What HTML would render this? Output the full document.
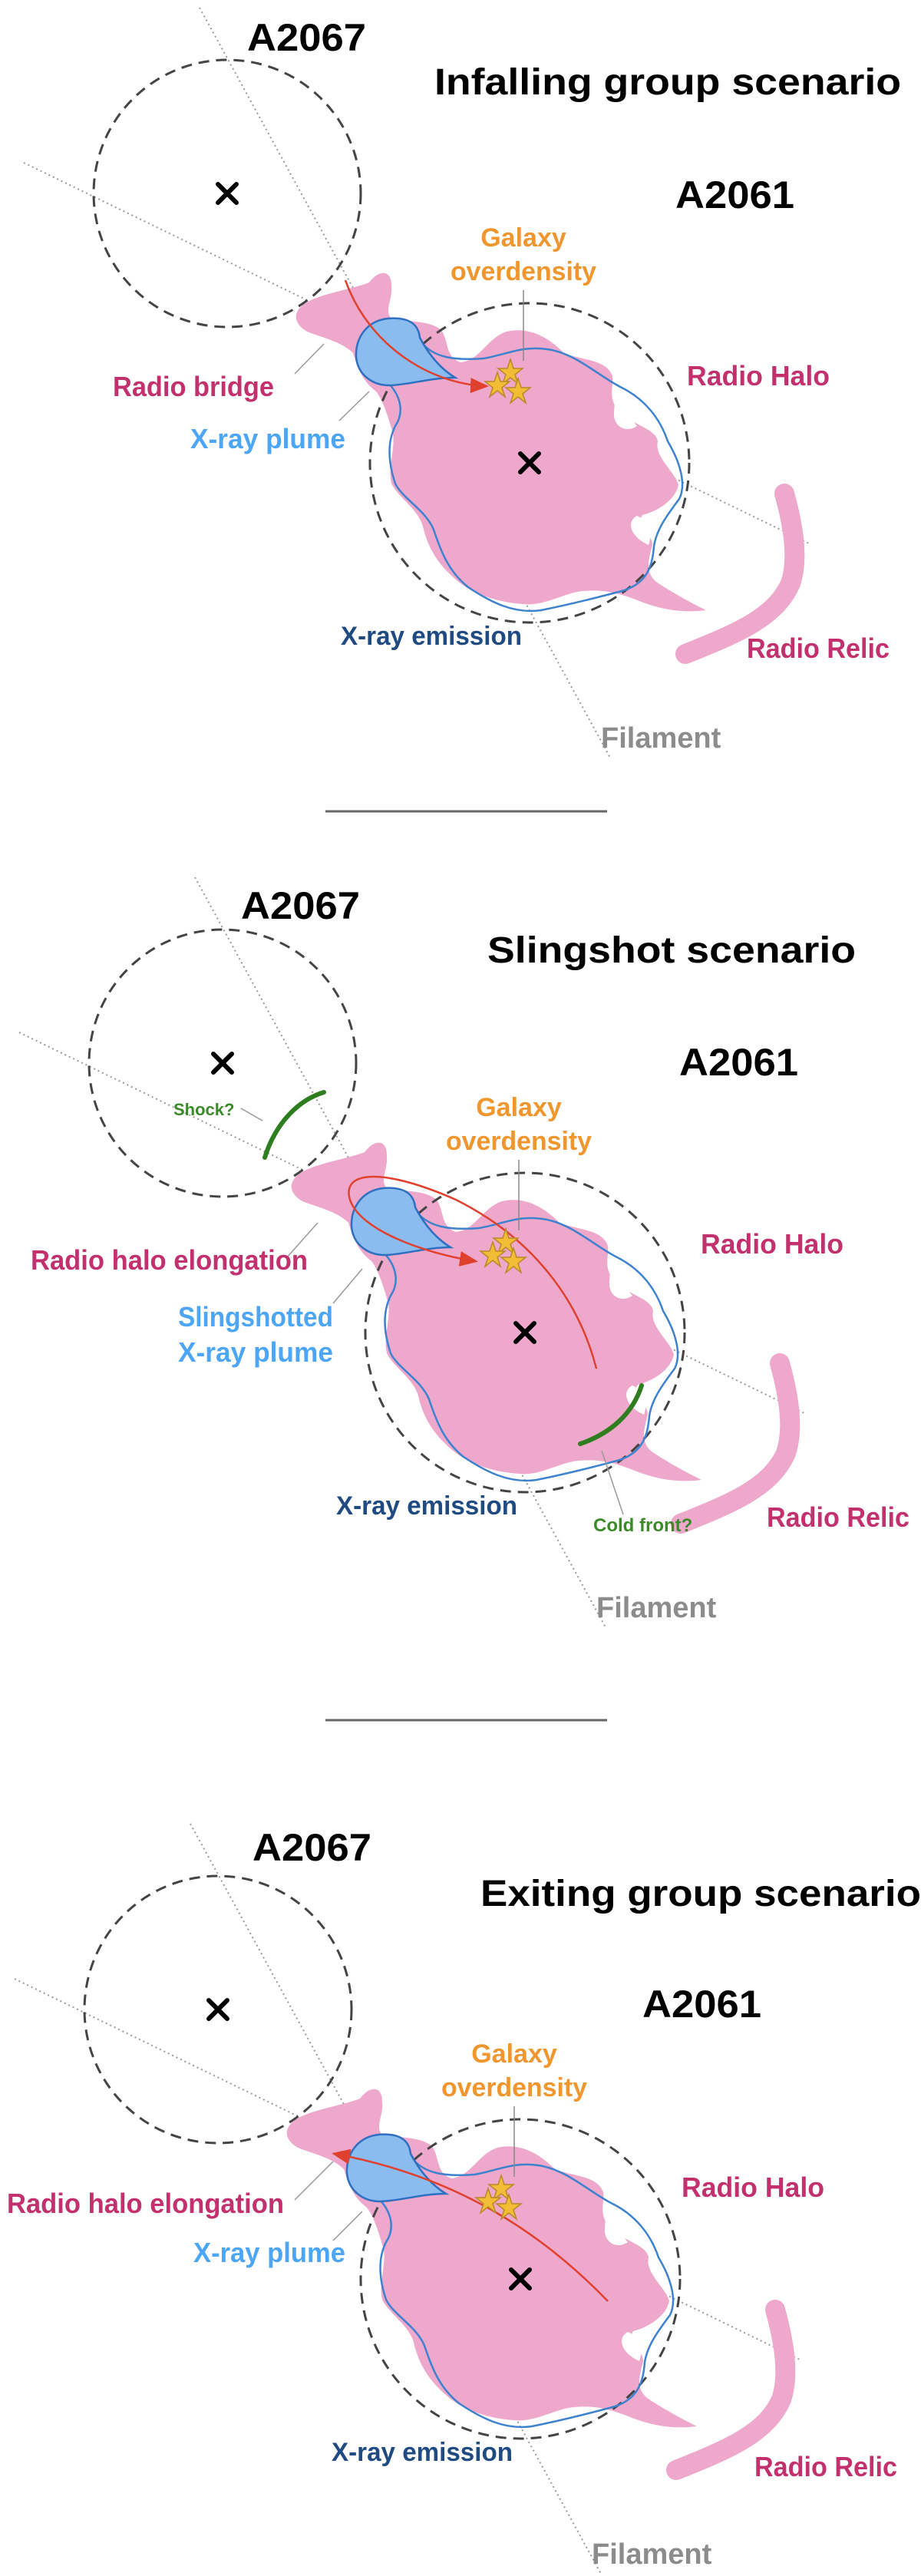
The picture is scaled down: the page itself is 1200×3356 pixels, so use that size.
<!DOCTYPE html>
<html><head><meta charset="utf-8"><style>
html,body{margin:0;padding:0;background:#fff;}
svg{display:block;}
.t{font-family:"Liberation Sans",sans-serif;font-weight:bold;}
.l{font-family:"Liberation Sans",sans-serif;font-weight:bold;}
</style></head><body>
<svg width="1200" height="3356" viewBox="0 0 1200 3356" xmlns="http://www.w3.org/2000/svg">
<defs>
<marker id="ah2" markerWidth="24" markerHeight="20" refX="20" refY="10" orient="auto" markerUnits="userSpaceOnUse" viewBox="0 0 24 20">
<path d="M0,0 L24,10 L0,20 Z" fill="#e0402e"/></marker>
<g id="base">
  <line x1="260" y1="10" x2="795" y2="987" stroke="#999" stroke-width="2" stroke-dasharray="2,4"/>
  <line x1="31" y1="212" x2="1054" y2="708" stroke="#999" stroke-width="2" stroke-dasharray="2,4"/>
  <path fill="#eea8cb" d="M387,407 C395,385 450,380 481,368 C495,350 510,352 510,372 C512,390 500,405 510,415 C540,420 560,418 575,430 C585,445 580,465 600,472 C625,470 635,440 660,432 C690,425 715,440 735,460 C760,470 790,468 798,490 C800,505 790,520 810,540 C830,555 855,560 857,575 C852,595 880,615 884,632 C880,650 860,665 837,671 C828,684 850,695 850,710 C845,730 840,745 855,758 C880,775 910,790 920,795 C880,800 850,790 828,781 C800,770 780,768 760,770 C735,772 710,790 682,787 C650,785 620,775 600,760 C575,740 560,720 552,690 C548,665 520,650 510,630 C505,610 515,585 512,565 C505,540 498,520 490,510 C470,495 465,475 460,460 C445,445 420,440 400,432 C388,425 383,415 387,407 Z"/>
  <path fill="#fff" d="M806,515 C815,520 820,545 830,555 C815,565 800,555 800,540 C800,528 802,518 806,515 Z"/>
  <path fill="#fff" d="M830,672 C815,680 822,700 845,710 C850,695 848,680 830,672 Z"/>
  <path d="M1022,643 C1035,690 1040,730 1030,760 C1010,805 960,825 893,852" fill="none" stroke="#eea8cb" stroke-width="26" stroke-linecap="round"/>
  <circle cx="296" cy="252" r="174" fill="none" stroke="#444" stroke-width="3" stroke-dasharray="14,9"/>
  <circle cx="690" cy="603" r="208" fill="none" stroke="#444" stroke-width="3" stroke-dasharray="14,9"/>
  <path fill="none" stroke="#3d82cf" stroke-width="2.5" d="M550,447 C565,465 590,470 630,467 C660,462 680,450 713,455 C750,460 780,490 810,505 C840,520 860,545 870,575 C885,600 895,630 885,650 C870,670 855,690 852,712 C850,735 845,760 810,770 C780,778 740,788 705,795 C670,800 640,785 610,765 C585,745 575,720 565,690 C555,665 525,650 515,630 C505,600 505,575 515,555 C525,540 525,520 507,500"/>
  <path fill="#8bbcef" stroke="#2f6fc0" stroke-width="2.5" d="M593,492 C570,478 555,455 547,440 C545,420 530,413 505,415 C478,418 463,440 464,465 C466,488 485,502 507,502 C530,502 560,492 593,492 Z"/>
  <g stroke="#000" stroke-width="6" stroke-linecap="round">
    <line x1="284" y1="240" x2="308" y2="264"/><line x1="308" y1="240" x2="284" y2="264"/>
    <line x1="678" y1="591" x2="702" y2="615"/><line x1="702" y1="591" x2="678" y2="615"/>
  </g>
  <line x1="682" y1="378" x2="682" y2="470" stroke="#888" stroke-width="1.5"/>
  <text class="l" x="682" y="321" font-size="34" fill="#f0962e" text-anchor="middle">Galaxy</text>
  <text class="l" x="682" y="365" font-size="34" fill="#f0962e" text-anchor="middle" textLength="190" lengthAdjust="spacingAndGlyphs">overdensity</text>
  <text class="t" x="783" y="974" font-size="38" fill="#8c8c8c">Filament</text>
  <text class="l" x="444" y="840" font-size="34" fill="#1f4a82" textLength="236" lengthAdjust="spacingAndGlyphs">X-ray emission</text>
</g>
<g id="stars" fill="#f2bd35" stroke="#b8892a" stroke-width="1.5">
  <path d="M0,-17 L4,-5 L16,-5 L6,3 L10,15 L0,7 L-10,15 L-6,3 L-16,-5 L-4,-5 Z" transform="translate(665,485)"/>
  <path d="M0,-17 L4,-5 L16,-5 L6,3 L10,15 L0,7 L-10,15 L-6,3 L-16,-5 L-4,-5 Z" transform="translate(648,502)"/>
  <path d="M0,-17 L4,-5 L16,-5 L6,3 L10,15 L0,7 L-10,15 L-6,3 L-16,-5 L-4,-5 Z" transform="translate(675,510)"/>
</g>
</defs>

<g>
  <use href="#base"/>
  <path d="M450,365 C480,450 560,500 633,503" fill="none" stroke="#e0402e" stroke-width="2.5" marker-end="url(#ah2)"/>
  <use href="#stars"/>
  <line x1="384" y1="487" x2="422" y2="448" stroke="#999" stroke-width="1.5"/>
  <line x1="442" y1="548" x2="481" y2="510" stroke="#999" stroke-width="1.5"/>
  <text class="t" x="322" y="66" font-size="50" fill="#000" textLength="155" lengthAdjust="spacingAndGlyphs">A2067</text>
  <text class="t" x="566" y="123" font-size="48" fill="#000" textLength="608" lengthAdjust="spacingAndGlyphs">Infalling group scenario</text>
  <text class="t" x="880" y="271" font-size="50" fill="#000" textLength="155" lengthAdjust="spacingAndGlyphs">A2061</text>
  <text class="l" x="147" y="516" font-size="36" fill="#c2306e" textLength="210" lengthAdjust="spacingAndGlyphs">Radio bridge</text>
  <text class="l" x="248" y="584" font-size="36" fill="#4da6f5" textLength="202" lengthAdjust="spacingAndGlyphs">X-ray plume</text>
  <text class="l" x="895" y="502" font-size="36" fill="#c2306e" textLength="186" lengthAdjust="spacingAndGlyphs">Radio Halo</text>
  <text class="l" x="973" y="857" font-size="36" fill="#c2306e" textLength="186" lengthAdjust="spacingAndGlyphs">Radio Relic</text>
</g>

<line x1="424" y1="1057" x2="791" y2="1057" stroke="#666" stroke-width="3"/>

<g transform="translate(-6,1133)">
  <use href="#base"/>
  <path d="M783,650 C760,560 700,480 600,430 C510,390 450,390 462,430 C475,470 560,500 625,510" fill="none" stroke="#e0402e" stroke-width="2.5" marker-end="url(#ah2)"/>
  <use href="#stars"/>
  <line x1="380" y1="505" x2="420" y2="460" stroke="#999" stroke-width="1.5"/>
  <line x1="440" y1="565" x2="478" y2="520" stroke="#999" stroke-width="1.5"/>
  <path d="M351,375 C365,330 395,300 428,290" fill="none" stroke="#2e7d1e" stroke-width="6" stroke-linecap="round"/>
  <line x1="320" y1="311" x2="348" y2="327" stroke="#999" stroke-width="1.5"/>
  <text class="l" x="232" y="320" font-size="22" fill="#3a8a2a" font-weight="normal">Shock?</text>
  <path d="M762,748 C800,735 830,710 842,672" fill="none" stroke="#2e7d1e" stroke-width="6" stroke-linecap="round"/>
  <line x1="790" y1="757" x2="818" y2="840" stroke="#999" stroke-width="1.5"/>
  <text class="l" x="779" y="862" font-size="24" fill="#3a8a2a" font-weight="normal">Cold front?</text>
  <text class="t" x="320" y="64" font-size="50" fill="#000" textLength="155" lengthAdjust="spacingAndGlyphs">A2067</text>
  <text class="t" x="641" y="121" font-size="48" fill="#000" textLength="480" lengthAdjust="spacingAndGlyphs">Slingshot scenario</text>
  <text class="t" x="891" y="268" font-size="50" fill="#000" textLength="155" lengthAdjust="spacingAndGlyphs">A2061</text>
  <text class="l" x="46" y="521" font-size="36" fill="#c2306e" textLength="361" lengthAdjust="spacingAndGlyphs">Radio halo elongation</text>
  <text class="l" x="440" y="595" font-size="36" fill="#4da6f5" text-anchor="end" textLength="202" lengthAdjust="spacingAndGlyphs">Slingshotted</text>
  <text class="l" x="440" y="641" font-size="36" fill="#4da6f5" text-anchor="end" textLength="202" lengthAdjust="spacingAndGlyphs">X-ray plume</text>
  <text class="l" x="919" y="500" font-size="36" fill="#c2306e" textLength="186" lengthAdjust="spacingAndGlyphs">Radio Halo</text>
  <text class="l" x="1005" y="856" font-size="36" fill="#c2306e" textLength="186" lengthAdjust="spacingAndGlyphs">Radio Relic</text>
</g>

<line x1="424" y1="2241" x2="791" y2="2241" stroke="#666" stroke-width="3"/>

<g transform="translate(-12,2366)">
  <use href="#base"/>
  <path d="M804,632 C720,545 610,470 448,440" fill="none" stroke="#e0402e" stroke-width="2.5" marker-end="url(#ah2)"/>
  <use href="#stars"/>
  <line x1="396" y1="500" x2="446" y2="450" stroke="#999" stroke-width="1.5"/>
  <line x1="446" y1="553" x2="484" y2="515" stroke="#999" stroke-width="1.5"/>
  <text class="t" x="341" y="58" font-size="50" fill="#000" textLength="155" lengthAdjust="spacingAndGlyphs">A2067</text>
  <text class="t" x="638" y="117" font-size="48" fill="#000" textLength="574" lengthAdjust="spacingAndGlyphs">Exiting group scenario</text>
  <text class="t" x="849" y="262" font-size="50" fill="#000" textLength="155" lengthAdjust="spacingAndGlyphs">A2061</text>
  <text class="l" x="21" y="517" font-size="36" fill="#c2306e" textLength="361" lengthAdjust="spacingAndGlyphs">Radio halo elongation</text>
  <text class="l" x="264" y="581" font-size="36" fill="#4da6f5" textLength="198" lengthAdjust="spacingAndGlyphs">X-ray plume</text>
  <text class="l" x="900" y="496" font-size="36" fill="#c2306e" textLength="186" lengthAdjust="spacingAndGlyphs">Radio Halo</text>
  <text class="l" x="995" y="860" font-size="36" fill="#c2306e" textLength="186" lengthAdjust="spacingAndGlyphs">Radio Relic</text>
</g>
</svg>
</body></html>
